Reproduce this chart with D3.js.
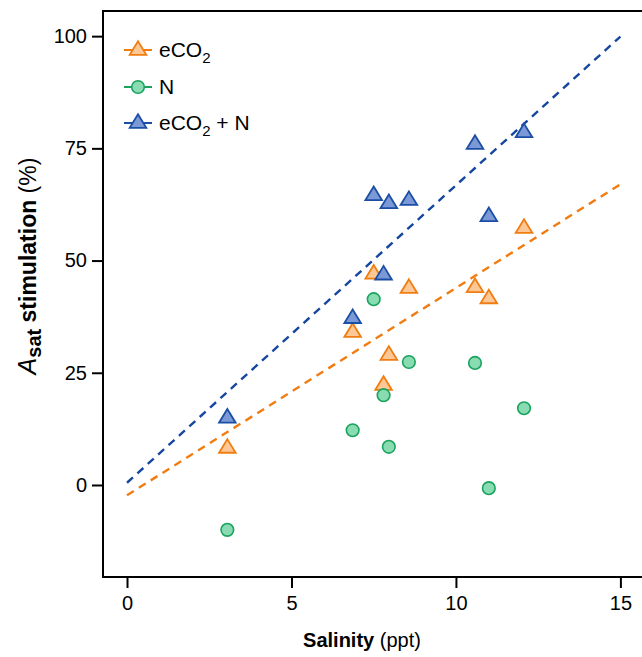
<!DOCTYPE html>
<html>
<head>
<meta charset="utf-8">
<script src="https://cdn.jsdelivr.net/npm/d3@7"></script>
<style>
	body { margin: 0; background: #fff; }
	svg { display: block; font-family: "Liberation Sans", Arial, sans-serif; }
</style>
</head>
<body>
<svg id="chart" width="642" height="657"></svg>
<script>
// data
var salinity = [3.05, 6.86, 7.5, 7.8, 7.96, 8.57, 10.58, 11.0, 12.07];
var eco2 = [8.7, 34.5, 47.5, 22.7, 29.4, 44.3, 44.5, 42.0, 57.7];
var nitrogen = [-10.0, 12.2, 41.4, 20.0, 8.5, 27.4, 27.2, -0.7, 17.1];
var eco2N = [15.4, 37.6, 65.0, 47.3, 63.2, 63.9, 76.4, 60.3, 79.0];

// fitted dashed lines, endpoints at x = 0 and x = 15
var lineX = [0, 15];
var eco2Fit = [-2.3, 67.0];
var eco2NFit = [0.5, 99.9];

var xTicks = [0, 5, 10, 15];
var yTicks = [0, 25, 50, 75, 100];

var color = {
	eco2: {stroke: "#f07c12", fill: "#fec896", line: "#f07c12"},
	n: {stroke: "#1aa35e", fill: "#89dcb2"},
	eco2N: {stroke: "#1c4ea4", fill: "#7b99d6", line: "#15479f"}
};

var svg = d3.select("#chart");

var x = d3.scaleLinear()
	.domain([-0.73, 15.9])
	.range([103, 650]);

var y = d3.scaleLinear()
	.domain([-20.5, 105.6])
	.range([577, 11]);

// frame
svg.append("rect")
	.attr("x", 103)
	.attr("y", 11)
	.attr("width", 560)
	.attr("height", 566)
	.attr("fill", "none")
	.attr("stroke", "#000")
	.attr("stroke-width", 2);

// axes
var xAxis = svg.append("g")
	.attr("transform", "translate(0,578)")
	.call(d3.axisBottom(x).tickValues(xTicks).tickSize(10).tickPadding(8).tickFormat(d3.format("d")));
var yAxis = svg.append("g")
	.attr("transform", "translate(102,0)")
	.call(d3.axisLeft(y).tickValues(yTicks).tickSize(10).tickPadding(5).tickFormat(d3.format("d")));

[xAxis, yAxis].forEach(function(ax) {
	ax.select(".domain").remove();
	ax.selectAll(".tick line").attr("stroke", "#000").attr("stroke-width", 2);
	ax.selectAll(".tick text")
		.attr("fill", "#000")
		.style("font-size", "20px")
		.style("font-family", "Liberation Sans, Arial, sans-serif");
});

// axis titles
var xTitle = svg.append("text")
	.attr("x", 362)
	.attr("y", 647)
	.attr("text-anchor", "middle")
	.style("font-size", "20px");
xTitle.append("tspan").attr("font-weight", "bold").text("Salinity");
xTitle.append("tspan").text(" (ppt)");

var yTitle = svg.append("text")
	.attr("transform", "translate(36,266) rotate(-90)")
	.attr("text-anchor", "middle")
	.style("font-size", "23px");
yTitle.append("tspan").attr("font-style", "italic").style("font-size", "25px").text("A");
yTitle.append("tspan").attr("font-weight", "bold").attr("dy", 5).style("font-size", "20px").text("sat");
yTitle.append("tspan").attr("font-weight", "bold").attr("dy", -5).text(" stimulation");
yTitle.append("tspan").text(" (%)");

// dashed fit lines
function drawFit(vals, col) {
	svg.append("path")
		.datum(lineX.map(function(d, i) { return [d, vals[i]]; }))
		.attr("fill", "none")
		.attr("stroke", col)
		.attr("stroke-width", 2.4)
		.attr("stroke-dasharray", "8,6")
		.attr("d", d3.line().x(function(d) { return x(d[0]); }).y(function(d) { return y(d[1]); }));
}
drawFit(eco2Fit, color.eco2.line);
drawFit(eco2NFit, color.eco2N.line);

// markers
function triPath(cx, cy) {
	var w = 8.3, h = 6.8;
	return "M" + cx + "," + (cy - h) + "L" + (cx + w) + "," + (cy + h) + "L" + (cx - w) + "," + (cy + h) + "Z";
}

function drawTriangles(vals, c) {
	svg.append("g").selectAll("path")
		.data(vals)
		.enter()
		.append("path")
			.attr("d", function(d, i) { return triPath(x(salinity[i]), y(d)); })
			.attr("fill", c.fill)
			.attr("stroke", c.stroke)
			.attr("stroke-width", 1.8)
			.attr("stroke-linejoin", "miter");
}

drawTriangles(eco2, color.eco2);

svg.append("g").selectAll("circle")
	.data(nitrogen)
	.enter()
	.append("circle")
		.attr("cx", function(d, i) { return x(salinity[i]); })
		.attr("cy", function(d) { return y(d); })
		.attr("r", 6.3)
		.attr("fill", color.n.fill)
		.attr("stroke", color.n.stroke)
		.attr("stroke-width", 1.6);

drawTriangles(eco2N, color.eco2N);

// legend
var legendItems = [
	{name: "eCO", sub: "2", rest: "", c: color.eco2, shape: "tri", y: 48},
	{name: "N", sub: "", rest: "", c: color.n, shape: "circle", y: 85},
	{name: "eCO", sub: "2", rest: " + N", c: color.eco2N, shape: "tri", y: 121}
];

legendItems.forEach(function(item) {
	var g = svg.append("g");
	g.append("line")
		.attr("x1", 124).attr("x2", 152)
		.attr("y1", item.y + 2).attr("y2", item.y + 2)
		.attr("stroke", item.c.stroke)
		.attr("stroke-width", 2);
	if (item.shape === "tri") {
		g.append("path")
			.attr("d", triPath(138, item.y))
			.attr("fill", item.c.fill)
			.attr("stroke", item.c.stroke)
			.attr("stroke-width", 1.8);
	} else {
		g.append("circle")
			.attr("cx", 138).attr("cy", item.y + 2).attr("r", 6.3)
			.attr("fill", item.c.fill)
			.attr("stroke", item.c.stroke)
			.attr("stroke-width", 1.6);
	}
	var t = g.append("text")
		.attr("x", 159)
		.attr("y", item.y + 9)
		.style("font-size", "21px");
	t.append("tspan").text(item.name);
	if (item.sub) {
		t.append("tspan").attr("dy", 6).style("font-size", "15px").text(item.sub);
		t.append("tspan").attr("dy", -6).text(item.rest);
	}
});
</script>
</body>
</html>
